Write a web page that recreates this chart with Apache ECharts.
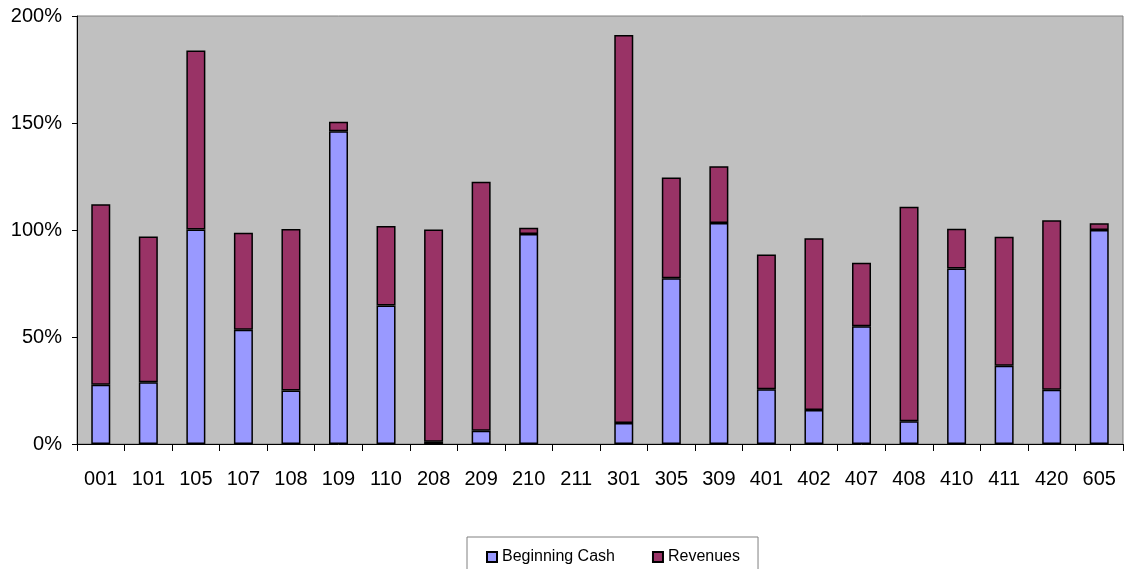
<!DOCTYPE html>
<html>
<head>
<meta charset="utf-8">
<script src="https://cdn.jsdelivr.net/npm/echarts@6/dist/echarts.min.js"></script>
<style>
html,body{margin:0;padding:0;background:#fff;}
#c{width:1124px;height:569px;}
</style>
</head>
<body>
<div id="c"></div>
<script>
var categories = ['001','101','105','107','108','109','110','208','209','210','211','301','305','309','401','402','407','408','410','411','420','605'];
var beginningCash = [27.7, 28.9, 100.2, 53.4, 25.0, 146.2, 64.7, 1.1, 6.2, 98.1, null, 9.8, 77.5, 103.3, 25.6, 15.9, 55.0, 10.6, 82.0, 36.6, 25.3, 100.0];
var revenues = [84.3, 68.1, 83.7, 45.3, 75.5, 4.4, 37.2, 99.1, 116.3, 3.0, null, 181.3, 47.0, 26.5, 63.0, 80.3, 29.7, 100.3, 18.6, 60.3, 79.2, 3.1];
var yTicks = [0, 50, 100, 150, 200];

var FONT = "'Liberation Sans', Arial, sans-serif";
var chart = echarts.init(document.getElementById('c'), null, {renderer: 'canvas'});
chart.setOption({
  animation: false,
  backgroundColor: '#ffffff',
  grid: {
    left: 77, right: 1, top: 16, bottom: 125,
    show: true, backgroundColor: '#C0C0C0', borderColor: '#808080', borderWidth: 1
  },
  legend: {
    left: 467, top: 537,
    padding: [12, 18, 40, 19],
    borderColor: '#808080', borderWidth: 1,
    itemWidth: 10, itemHeight: 10, itemGap: 37,
    icon: 'rect',
    textStyle: {fontFamily: FONT, fontSize: 16, color: '#000'},
    data: ['Beginning Cash', 'Revenues']
  },
  xAxis: {
    type: 'category',
    data: categories,
    axisLine: {lineStyle: {color: '#000', width: 1}},
    axisTick: {show: true, length: 7, lineStyle: {color: '#000'}},
    axisLabel: {fontFamily: FONT, fontSize: 20, color: '#000', margin: 25, interval: 0}
  },
  yAxis: {
    type: 'value',
    min: yTicks[0], max: yTicks[yTicks.length - 1], interval: 50,
    axisLine: {show: true, lineStyle: {color: '#000', width: 1}},
    axisTick: {show: true, length: 5, lineStyle: {color: '#000'}},
    splitLine: {show: false},
    axisLabel: {fontFamily: FONT, fontSize: 20, color: '#000', margin: 15, formatter: '{value}%'}
  },
  series: [
    {
      name: 'Beginning Cash', type: 'bar', stack: 'a', barWidth: 19,
      itemStyle: {color: '#9999FF', borderColor: '#000', borderWidth: 1.5},
      data: beginningCash
    },
    {
      name: 'Revenues', type: 'bar', stack: 'a', barWidth: 19,
      itemStyle: {color: '#993366', borderColor: '#000', borderWidth: 1.5},
      data: revenues
    }
  ]
});
</script>
</body>
</html>
